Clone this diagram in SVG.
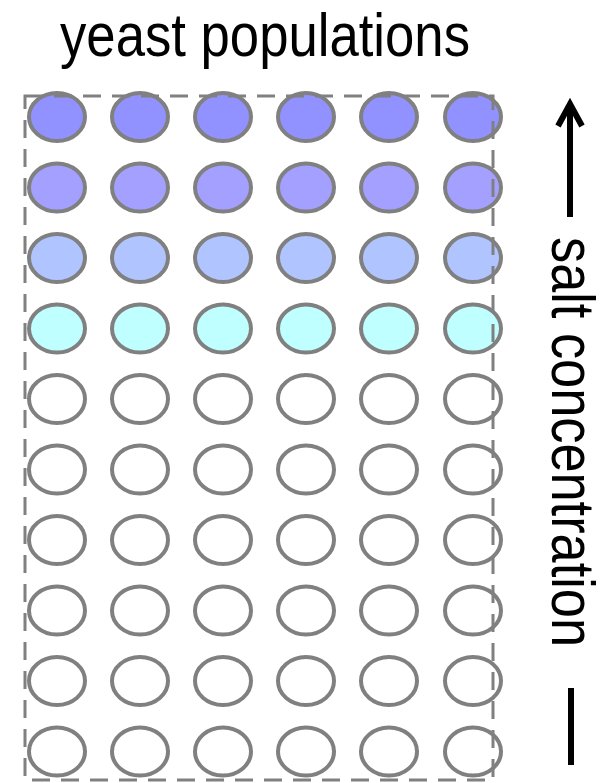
<svg xmlns="http://www.w3.org/2000/svg" width="607" height="783" viewBox="0 0 607 783">
  <style>
    .label { font-family: "Liberation Sans", Arial, sans-serif; fill: #000; }
    .well { stroke: #808080; stroke-width: 4; }
    .r1 { fill: #9191ff; }
    .r2 { fill: #a3a0ff; }
    .r3 { fill: #b0c4ff; }
    .r4 { fill: #c0ffff; }
    .r0 { fill: #ffffff; }
    .frame { fill: none; stroke: #808080; stroke-width: 3; stroke-dasharray: 18 11; }
    .axis { stroke: #000; stroke-width: 6; fill: none; }
  </style>
  <defs>
    <ellipse id="w" cx="0" cy="0" rx="28" ry="24"/>
  </defs>

  <rect width="607" height="783" fill="#fff"/>

  <g id="title">
    <text class="label" x="60" y="56" font-size="62" textLength="410" lengthAdjust="spacingAndGlyphs">yeast populations</text>
  </g>

  <g id="plate">
    <g id="row1" class="well r1">
      <use href="#w" x="57" y="117"/><use href="#w" x="140" y="117"/><use href="#w" x="223" y="117"/>
      <use href="#w" x="306" y="117"/><use href="#w" x="389" y="117"/><use href="#w" x="473" y="117"/>
    </g>
    <g id="row2" class="well r2">
      <use href="#w" x="57" y="187.5"/><use href="#w" x="140" y="187.5"/><use href="#w" x="223" y="187.5"/>
      <use href="#w" x="306" y="187.5"/><use href="#w" x="389" y="187.5"/><use href="#w" x="473" y="187.5"/>
    </g>
    <g id="row3" class="well r3">
      <use href="#w" x="57" y="258"/><use href="#w" x="140" y="258"/><use href="#w" x="223" y="258"/>
      <use href="#w" x="306" y="258"/><use href="#w" x="389" y="258"/><use href="#w" x="473" y="258"/>
    </g>
    <g id="row4" class="well r4">
      <use href="#w" x="57" y="328.5"/><use href="#w" x="140" y="328.5"/><use href="#w" x="223" y="328.5"/>
      <use href="#w" x="306" y="328.5"/><use href="#w" x="389" y="328.5"/><use href="#w" x="473" y="328.5"/>
    </g>
    <g id="row5" class="well r0">
      <use href="#w" x="57" y="399"/><use href="#w" x="140" y="399"/><use href="#w" x="223" y="399"/>
      <use href="#w" x="306" y="399"/><use href="#w" x="389" y="399"/><use href="#w" x="473" y="399"/>
    </g>
    <g id="row6" class="well r0">
      <use href="#w" x="57" y="469.5"/><use href="#w" x="140" y="469.5"/><use href="#w" x="223" y="469.5"/>
      <use href="#w" x="306" y="469.5"/><use href="#w" x="389" y="469.5"/><use href="#w" x="473" y="469.5"/>
    </g>
    <g id="row7" class="well r0">
      <use href="#w" x="57" y="540"/><use href="#w" x="140" y="540"/><use href="#w" x="223" y="540"/>
      <use href="#w" x="306" y="540"/><use href="#w" x="389" y="540"/><use href="#w" x="473" y="540"/>
    </g>
    <g id="row8" class="well r0">
      <use href="#w" x="57" y="610.5"/><use href="#w" x="140" y="610.5"/><use href="#w" x="223" y="610.5"/>
      <use href="#w" x="306" y="610.5"/><use href="#w" x="389" y="610.5"/><use href="#w" x="473" y="610.5"/>
    </g>
    <g id="row9" class="well r0">
      <use href="#w" x="57" y="681"/><use href="#w" x="140" y="681"/><use href="#w" x="223" y="681"/>
      <use href="#w" x="306" y="681"/><use href="#w" x="389" y="681"/><use href="#w" x="473" y="681"/>
    </g>
    <g id="row10" class="well r0">
      <use href="#w" x="57" y="751.5"/><use href="#w" x="140" y="751.5"/><use href="#w" x="223" y="751.5"/>
      <use href="#w" x="306" y="751.5"/><use href="#w" x="389" y="751.5"/><use href="#w" x="473" y="751.5"/>
    </g>
    <!-- dashed outline drawn over the wells -->
    <rect id="frame" class="frame" x="25" y="96" width="468" height="684"/>
  </g>

  <g id="connectors">
    <!-- rising salt axis: arrow at top, bar at bottom -->
    <line class="axis" x1="570" y1="104" x2="570" y2="217"/>
    <polyline class="axis" points="558,126 570,104 582,126" stroke-linejoin="miter"/>
    <line class="axis" x1="571" y1="688" x2="571" y2="765"/>
  </g>

  <g id="axis-label">
    <text class="label" transform="translate(552,237) rotate(90)" x="0" y="0" font-size="62" textLength="410" lengthAdjust="spacingAndGlyphs">salt concentration</text>
  </g>
</svg>
